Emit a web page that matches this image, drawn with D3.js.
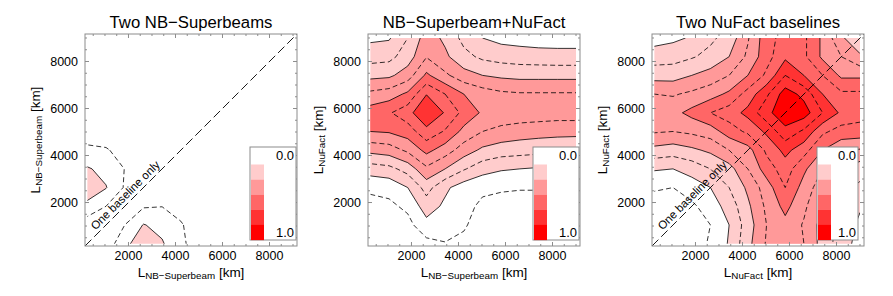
<!DOCTYPE html>
<html>
<head>
<meta charset="utf-8">
<script src="https://cdn.jsdelivr.net/npm/d3@7"></script>
<style>
  body { margin: 0; background: #fff; }
  svg text { font-family: "Liberation Sans", Arial, Helvetica, sans-serif; fill: #000; }
</style>
</head>
<body>
<svg id="chart" width="893" height="296"></svg>
<script>
// baselines of the sampled grid (km), bottom-to-top / left-to-right
const baselines = [250, 1045, 1841, 2636, 3432, 4227, 5023, 5818, 6614, 7409, 8205, 9000];
const tickValues = [2000, 4000, 6000, 8000];
const titles = ["Two NB\u2212Superbeams", "NB\u2212Superbeam+NuFact", "Two NuFact baselines"];
const xSubs = ["NB\u2212Superbeam", "NB\u2212Superbeam", "NuFact"];
const ySubs = ["NB\u2212Superbeam", "NuFact", "NuFact"];
const fillLevels = [0.2, 0.4, 0.6, 0.8, 1.0];
const dashLevels = [0.1, 0.3, 0.5, 0.7, 0.9];
const fillColors = ["#ffcccc", "#ff9999", "#ff6666", "#ff3333", "#ff0000"];
const legendLabels = ["0.0", "1.0"];
const diagonalLabel = "One baseline only";

// each row = one value of the y baseline (from 250 up to 9000)
const twoSuperbeams = [
  [0.00, 0.05, 0.16, 0.29, 0.21, 0.12, 0.05, 0.02, 0.02, 0.02, 0.02, 0.02],
  [0.05, 0.04, 0.10, 0.205, 0.17, 0.11, 0.04, 0.02, 0.02, 0.02, 0.02, 0.02],
  [0.16, 0.10, 0.05, 0.09, 0.098, 0.06, 0.03, 0.02, 0.02, 0.02, 0.02, 0.02],
  [0.29, 0.205, 0.09, 0.04, 0.05, 0.04, 0.02, 0.02, 0.02, 0.02, 0.02, 0.02],
  [0.21, 0.17, 0.098, 0.05, 0.03, 0.03, 0.02, 0.02, 0.02, 0.02, 0.02, 0.02],
  [0.12, 0.11, 0.06, 0.04, 0.03, 0.02, 0.02, 0.02, 0.02, 0.02, 0.02, 0.02],
  [0.05, 0.04, 0.03, 0.02, 0.02, 0.02, 0.02, 0.02, 0.02, 0.02, 0.02, 0.02],
  [0.02, 0.02, 0.02, 0.02, 0.02, 0.02, 0.02, 0.02, 0.02, 0.02, 0.02, 0.02],
  [0.02, 0.02, 0.02, 0.02, 0.02, 0.02, 0.02, 0.02, 0.02, 0.02, 0.02, 0.02],
  [0.02, 0.02, 0.02, 0.02, 0.02, 0.02, 0.02, 0.02, 0.02, 0.02, 0.02, 0.02],
  [0.02, 0.02, 0.02, 0.02, 0.02, 0.02, 0.02, 0.02, 0.02, 0.02, 0.02, 0.02],
  [0.02, 0.02, 0.02, 0.02, 0.02, 0.02, 0.02, 0.02, 0.02, 0.02, 0.02, 0.02]
];

const superbeamNuFact = [
  [0.04, 0.04, 0.05, 0.07, 0.095, 0.08, 0.04, 0.04, 0.04, 0.04, 0.04, 0.04],
  [0.05, 0.06, 0.07, 0.166, 0.15, 0.11, 0.06, 0.05, 0.05, 0.05, 0.05, 0.05],
  [0.07, 0.08, 0.12, 0.25, 0.18, 0.13, 0.08, 0.07, 0.07, 0.07, 0.07, 0.07],
  [0.117, 0.13, 0.20, 0.34, 0.22, 0.15, 0.12, 0.11, 0.105, 0.105, 0.105, 0.105],
  [0.25, 0.27, 0.34, 0.48, 0.40, 0.31, 0.24, 0.21, 0.20, 0.19, 0.19, 0.19],
  [0.43, 0.45, 0.52, 0.63, 0.55, 0.45, 0.38, 0.35, 0.34, 0.33, 0.33, 0.32],
  [0.60, 0.61, 0.65, 0.766, 0.69, 0.57, 0.50, 0.47, 0.45, 0.44, 0.43, 0.43],
  [0.65, 0.69, 0.76, 0.90, 0.79, 0.67, 0.585, 0.565, 0.56, 0.555, 0.55, 0.55],
  [0.525, 0.55, 0.62, 0.796, 0.70, 0.60, 0.55, 0.52, 0.51, 0.51, 0.51, 0.51],
  [0.37, 0.38, 0.45, 0.62, 0.52, 0.44, 0.40, 0.38, 0.37, 0.37, 0.37, 0.37],
  [0.26, 0.27, 0.35, 0.495, 0.42, 0.33, 0.28, 0.26, 0.25, 0.245, 0.24, 0.24],
  [0.18, 0.19, 0.30, 0.45, 0.38, 0.27, 0.20, 0.17, 0.16, 0.15, 0.15, 0.15]
];

const twoNuFact = [
  [0.03, 0.04, 0.06, 0.11, 0.21, 0.37, 0.51, 0.56, 0.50, 0.36, 0.25, 0.16],
  [0.04, 0.04, 0.06, 0.10, 0.20, 0.35, 0.50, 0.57, 0.49, 0.36, 0.26, 0.18],
  [0.06, 0.06, 0.08, 0.15, 0.24, 0.38, 0.52, 0.63, 0.52, 0.40, 0.29, 0.21],
  [0.11, 0.10, 0.15, 0.20, 0.30, 0.42, 0.55, 0.70, 0.56, 0.44, 0.33, 0.28],
  [0.21, 0.20, 0.24, 0.30, 0.36, 0.50, 0.65, 0.75, 0.62, 0.50, 0.40, 0.34],
  [0.37, 0.35, 0.38, 0.42, 0.50, 0.56, 0.72, 0.83, 0.74, 0.60, 0.52, 0.49],
  [0.51, 0.50, 0.52, 0.55, 0.65, 0.72, 0.82, 0.97, 0.88, 0.72, 0.66, 0.66],
  [0.56, 0.57, 0.63, 0.70, 0.75, 0.83, 0.97, 1.07, 1.05, 0.90, 0.78, 0.74],
  [0.50, 0.49, 0.52, 0.56, 0.62, 0.74, 0.88, 1.05, 0.97, 0.80, 0.72, 0.72],
  [0.36, 0.36, 0.40, 0.44, 0.50, 0.60, 0.72, 0.90, 0.80, 0.70, 0.58, 0.58],
  [0.25, 0.26, 0.29, 0.33, 0.40, 0.52, 0.66, 0.78, 0.72, 0.58, 0.50, 0.42],
  [0.16, 0.18, 0.21, 0.28, 0.34, 0.49, 0.66, 0.74, 0.72, 0.58, 0.42, 0.30]
];

const panels = [
  { grid: twoSuperbeams, left: 85, diagonal: true, legendWidth: 46 },
  { grid: superbeamNuFact, left: 368, diagonal: false, legendWidth: 46 },
  { grid: twoNuFact, left: 652, diagonal: true, legendWidth: 41 }
];

const svg = d3.select("#chart");
const plotTop = 34, size = 212;
const domain = [150, 9170];

// edge values are repeated once so the contour lines stop cleanly at the data border
function padGrid(rows) {
  const n = rows[0].length, m = rows.length, out = [];
  for (let j = -1; j <= m; j++) {
    const r = rows[Math.max(0, Math.min(m - 1, j))];
    for (let i = -1; i <= n; i++) out.push(r[Math.max(0, Math.min(n - 1, i))]);
  }
  return out;
}

panels.forEach((p, k) => {
  const g = svg.append("g").attr("transform", `translate(${p.left},${plotTop})`);
  const x = d3.scaleLinear().domain(domain).range([0, size]);
  const y = d3.scaleLinear().domain(domain).range([size, 0]);
  const n = p.grid[0].length, m = p.grid.length;
  const gx = d3.scaleLinear().domain([1.5, n + 0.5]).range([baselines[0], baselines[n - 1]]);
  const gy = d3.scaleLinear().domain([1.5, m + 0.5]).range([baselines[0], baselines[m - 1]]);
  const path = d3.geoPath(d3.geoTransform({
    point: function(px, py) { this.stream.point(x(gx(px)), y(gy(py))); }
  }));
  const values = padGrid(p.grid);
  const contours = d3.contours().size([n + 2, m + 2]).smooth(true);

  const clipId = "clip" + k;
  g.append("clipPath").attr("id", clipId).append("rect")
    .attr("x", x(baselines[0])).attr("y", y(baselines[m - 1]))
    .attr("width", x(baselines[n - 1]) - x(baselines[0]))
    .attr("height", y(baselines[0]) - y(baselines[m - 1]));

  const plot = g.append("g").attr("clip-path", `url(#${clipId})`);
  plot.selectAll("path.fill")
    .data(contours.thresholds(fillLevels)(values))
    .join("path")
    .attr("class", "fill")
    .attr("d", path)
    .attr("fill", (d, i) => fillColors[i])
    .attr("stroke", "none");

  plot.selectAll("path.solid")
    .data(contours.thresholds(fillLevels)(values))
    .join("path")
    .attr("class", "solid")
    .attr("d", path)
    .attr("fill", "none")
    .attr("stroke", "#000")
    .attr("stroke-width", 0.8);

  plot.selectAll("path.dash")
    .data(contours.thresholds(dashLevels)(values))
    .join("path")
    .attr("class", "dash")
    .attr("d", path)
    .attr("fill", "none")
    .attr("stroke", "#000")
    .attr("stroke-width", 0.8)
    .attr("stroke-dasharray", "5,3");

  // diagonal: equal baselines
  if (p.diagonal) {
    g.append("line")
      .attr("x1", x(domain[0])).attr("y1", y(domain[0]))
      .attr("x2", x(domain[1])).attr("y2", y(domain[1]))
      .attr("stroke", "#000").attr("stroke-width", 0.9)
      .attr("stroke-dasharray", "9,4");
    const lx = x(700), ly = y(700);
    g.append("text")
      .attr("transform", `translate(${lx - 2.5},${ly - 2.5}) rotate(-45)`)
      .attr("font-size", 11.5)
      .text(diagonalLabel);
  }

  // frame with inward ticks
  g.append("rect").attr("width", size).attr("height", size)
    .attr("fill", "none").attr("stroke", "#8c8c8c").attr("stroke-width", 1);
  const minor = d3.range(500, 9001, 500);
  minor.forEach(v => {
    const len = v % 2000 === 0 ? 4 : 2;
    g.append("line").attr("x1", x(v)).attr("x2", x(v)).attr("y1", size).attr("y2", size - len).attr("stroke", "#8c8c8c");
    g.append("line").attr("x1", x(v)).attr("x2", x(v)).attr("y1", 0).attr("y2", len).attr("stroke", "#8c8c8c");
    g.append("line").attr("y1", y(v)).attr("y2", y(v)).attr("x1", 0).attr("x2", len).attr("stroke", "#8c8c8c");
    g.append("line").attr("y1", y(v)).attr("y2", y(v)).attr("x1", size).attr("x2", size - len).attr("stroke", "#8c8c8c");
  });

  g.selectAll("text.xt").data(tickValues).join("text")
    .attr("class", "xt")
    .attr("x", d => x(d)).attr("y", size + 14)
    .attr("text-anchor", "middle").attr("font-size", 12.5)
    .text(d => d);
  g.selectAll("text.yt").data(tickValues).join("text")
    .attr("class", "yt")
    .attr("x", -7).attr("y", d => y(d) + 4.5)
    .attr("text-anchor", "end").attr("font-size", 12.5)
    .text(d => d);

  // title
  g.append("text").attr("x", size / 2).attr("y", -6)
    .attr("text-anchor", "middle").attr("font-size", 16.7)
    .text(titles[k]);

  // axis labels
  const xl = g.append("text").attr("x", size / 2).attr("y", size + 31)
    .attr("text-anchor", "middle").attr("font-size", 13.5);
  xl.append("tspan").text("L");
  xl.append("tspan").attr("font-size", 9.8).attr("dy", 2).text(xSubs[k]);
  xl.append("tspan").attr("dy", -2).text(" [km]");

  const yl = g.append("text")
    .attr("transform", `translate(${-45},${size / 2}) rotate(-90)`)
    .attr("text-anchor", "middle").attr("font-size", 13.5);
  yl.append("tspan").text("L");
  yl.append("tspan").attr("font-size", 9.8).attr("dy", 2).text(ySubs[k]);
  yl.append("tspan").attr("dy", -2).text(" [km]");

  // legend
  const lw = p.legendWidth;
  const lg = g.append("g").attr("transform", `translate(${size - 47},${113})`);
  lg.append("rect").attr("width", lw).attr("height", 93)
    .attr("fill", "#fff").attr("stroke", "#8c8c8c");
  fillColors.forEach((c, i) => {
    lg.append("rect").attr("x", 1).attr("y", 17.5 + i * 15.1)
      .attr("width", 13).attr("height", 15.2).attr("fill", c);
  });
  lg.append("text").attr("x", lw - 2).attr("y", 13).attr("text-anchor", "end")
    .attr("font-size", 13).text(legendLabels[0]);
  lg.append("text").attr("x", lw - 2).attr("y", 89.5).attr("text-anchor", "end")
    .attr("font-size", 13).text(legendLabels[1]);
});
</script>
</body>
</html>
